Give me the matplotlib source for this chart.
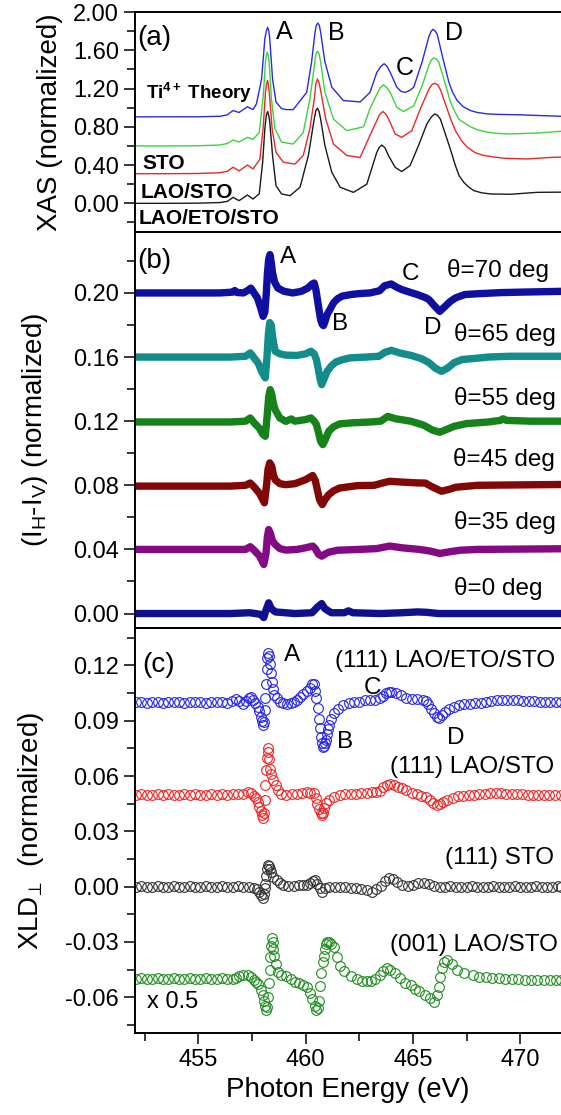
import matplotlib
matplotlib.use("Agg")
import matplotlib.pyplot as plt
from matplotlib.ticker import MultipleLocator, FormatStrFormatter

plt.rcParams['font.family'] = ['Liberation Sans', 'DejaVu Sans']
plt.rcParams['mathtext.fontset'] = 'custom'
plt.rcParams['mathtext.rm'] = 'Liberation Sans'
plt.rcParams['mathtext.it'] = 'Liberation Sans:italic'
plt.rcParams['mathtext.bf'] = 'Liberation Sans:bold'
plt.rcParams['axes.unicode_minus'] = False

# ---------------- (a) XAS spectra (offset) ----------------
xas_theory_e = [452.05, 453.5, 455.0, 456.0, 456.35, 456.62, 456.9, 457.29, 457.55, 457.71, 457.95, 458.1,
                458.17, 458.23, 458.29, 458.33, 458.46, 458.62, 458.88, 459.1, 459.42, 460.05, 460.28, 460.44,
                460.5, 460.57, 460.64, 460.7, 460.9, 461.22, 461.76, 462.54, 463.0, 463.32, 463.5, 463.66,
                463.8, 463.94, 464.25, 464.45, 464.65, 464.85, 465.04, 465.43, 465.74, 465.85, 465.94, 466.04,
                466.13, 466.36, 466.67, 466.85, 467.06, 467.35, 467.68, 468.0, 468.46, 469.0, 470.02, 471.93]
xas_theory_y = [0.904, 0.905, 0.905, 0.91, 0.925, 0.97, 0.95, 1.01, 0.98, 1.04, 1.30, 1.72,
                1.80, 1.84, 1.80, 1.72, 1.30, 1.06, 0.99, 0.98, 0.98, 1.16, 1.48, 1.79,
                1.86, 1.885, 1.86, 1.79, 1.48, 1.215, 1.075, 1.06, 1.16, 1.37, 1.43, 1.46,
                1.43, 1.37, 1.215, 1.17, 1.16, 1.18, 1.215, 1.48, 1.74, 1.80, 1.82, 1.80,
                1.77, 1.55, 1.27, 1.16, 1.075, 1.01, 0.97, 0.95, 0.935, 0.93, 0.925, 0.91]

xas_sto_e = [452.05, 453.5, 455.0, 456.0, 456.35, 456.62, 456.9, 457.29, 457.55, 457.84, 458.03, 458.13,
             458.17, 458.21, 458.26, 458.3, 458.41, 458.57, 458.88, 459.42, 459.89, 460.2, 460.41, 460.48,
             460.55, 460.63, 460.7, 460.9, 461.3, 461.92, 462.7, 463.0, 463.32, 463.48, 463.63, 463.78,
             463.94, 464.25, 464.56, 465.04, 465.43, 465.74, 465.86, 465.97, 466.09, 466.2, 466.44, 466.75,
             466.95, 467.14, 467.4, 467.68, 468.0, 468.46, 469.0, 469.55, 470.8, 471.93]
xas_sto_y = [0.60, 0.60, 0.602, 0.61, 0.625, 0.663, 0.64, 0.69, 0.67, 0.74, 1.13, 1.48,
             1.55, 1.58, 1.55, 1.48, 1.09, 0.78, 0.64, 0.62, 0.74, 1.09, 1.44, 1.56,
             1.59, 1.56, 1.48, 1.16, 0.88, 0.76, 0.80, 0.99, 1.14, 1.21, 1.24, 1.21,
             1.16, 1.005, 0.96, 1.02, 1.23, 1.44, 1.50, 1.52, 1.51, 1.48, 1.30, 1.06,
             0.96, 0.88, 0.84, 0.80, 0.77, 0.743, 0.73, 0.726, 0.735, 0.754]

xas_lao_e = [452.05, 453.5, 455.0, 456.0, 456.35, 456.62, 456.9, 457.29, 457.55, 457.87, 458.03, 458.13,
             458.18, 458.23, 458.28, 458.33, 458.44, 458.62, 458.96, 459.5, 459.89, 460.2, 460.41, 460.48,
             460.55, 460.63, 460.7, 460.94, 461.3, 461.92, 462.54, 463.0, 463.32, 463.45, 463.6, 463.75,
             463.9, 464.17, 464.48, 464.95, 465.35, 465.74, 465.88, 466.01, 466.15, 466.28, 466.59, 466.78,
             466.98, 467.25, 467.53, 467.9, 468.3, 469.24, 470.33, 471.4, 471.93]
xas_lao_y = [0.31, 0.31, 0.312, 0.32, 0.335, 0.377, 0.34, 0.40, 0.36, 0.46, 0.81, 1.16,
             1.25, 1.285, 1.22, 1.10, 0.78, 0.534, 0.43, 0.41, 0.50, 0.78, 1.10, 1.25,
             1.30, 1.26, 1.18, 0.88, 0.62, 0.50, 0.48, 0.71, 0.866, 0.93, 0.96, 0.93,
             0.866, 0.726, 0.69, 0.76, 0.99, 1.19, 1.24, 1.256, 1.24, 1.19, 0.99, 0.87,
             0.76, 0.66, 0.586, 0.53, 0.50, 0.471, 0.464, 0.48, 0.484]

xas_eto_e = [452.05, 453.5, 455.0, 456.0, 456.35, 456.62, 456.9, 457.29, 457.55, 457.84, 458.0, 458.1,
             458.17, 458.23, 458.28, 458.33, 458.46, 458.62, 458.88, 459.27, 459.74, 460.13, 460.4, 460.48,
             460.55, 460.63, 460.7, 460.9, 461.22, 461.61, 462.23, 462.85, 463.32, 463.42, 463.55, 463.7,
             463.86, 464.17, 464.48, 464.87, 465.26, 465.65, 465.85, 466.01, 466.15, 466.28, 466.59, 466.78,
             466.98, 467.15, 467.37, 467.6, 467.84, 468.2, 468.62, 469.55, 470.8, 471.93]
xas_eto_y = [0.00, 0.00, 0.002, 0.008, 0.02, 0.063, 0.028, 0.087, 0.045, 0.10, 0.43, 0.78,
             0.92, 0.96, 0.92, 0.85, 0.50, 0.185, 0.098, 0.08, 0.168, 0.50, 0.88, 0.97,
             0.995, 0.96, 0.88, 0.604, 0.325, 0.168, 0.115, 0.20, 0.534, 0.58, 0.61, 0.58,
             0.50, 0.377, 0.332, 0.395, 0.604, 0.83, 0.90, 0.935, 0.92, 0.88, 0.673, 0.54,
             0.395, 0.29, 0.22, 0.17, 0.133, 0.11, 0.098, 0.095, 0.115, 0.117]

# ---------------- (b) I_H - I_V at several angles ----------------
th70_e = [452.05, 453.0, 454.0, 455.0, 456.0, 456.6, 456.7, 456.8, 457.1, 457.3, 457.45, 457.6, 457.75, 457.9,
          458.02, 458.1, 458.17, 458.22, 458.28, 458.34, 458.4, 458.46, 458.55, 458.7, 459.0, 459.4, 459.8,
          460.1, 460.3, 460.4, 460.48, 460.55, 460.63, 460.7, 460.77, 460.83, 460.9, 461.0, 461.15, 461.3,
          461.5, 461.7, 462.1, 462.5, 463.0, 463.45, 463.68, 463.99, 464.25, 464.5, 464.85, 465.2, 465.6,
          465.75, 466.0, 466.25, 466.45, 466.75, 467.0, 467.42, 468.0, 469.08, 470.0, 471.9]
th70_y = [0.200, 0.200, 0.2, 0.200, 0.2, 0.2005, 0.2015, 0.2003, 0.2, 0.2015, 0.203, 0.200, 0.197, 0.191,
          0.1854, 0.188, 0.200, 0.212, 0.221, 0.2239, 0.219, 0.2125, 0.207, 0.2031, 0.201, 0.200, 0.201,
          0.203, 0.2055, 0.2062, 0.202, 0.196, 0.189, 0.1834, 0.1805, 0.1796, 0.182, 0.1865, 0.190, 0.1938,
          0.1965, 0.198, 0.199, 0.1996, 0.200, 0.2014, 0.2045, 0.2056, 0.2035, 0.202, 0.2005, 0.199, 0.197,
          0.1958, 0.192, 0.1885, 0.191, 0.1948, 0.197, 0.199, 0.1995, 0.2002, 0.2005, 0.201]

th65_e = [452.05, 456.5, 457.2, 457.42, 457.6, 457.8, 457.95, 458.12, 458.2, 458.27, 458.33, 458.4, 458.47,
          458.58, 458.8, 459.08, 459.58, 460.0, 460.25, 460.4, 460.5, 460.6, 460.68, 460.75, 460.85, 461.0,
          461.2, 461.42, 461.75, 462.08, 462.8, 463.42, 463.7, 464.0, 464.4, 464.92, 465.4, 465.75, 466.05,
          466.33, 466.6, 466.92, 467.3, 467.75, 468.5, 469.5, 471.9]
th65_y = [0.160, 0.160, 0.1605, 0.1626, 0.1595, 0.156, 0.151, 0.147, 0.160, 0.175, 0.1815, 0.180, 0.172,
          0.1636, 0.162, 0.1612, 0.161, 0.162, 0.1636, 0.162, 0.1585, 0.152, 0.146, 0.1428, 0.146, 0.151,
          0.1545, 0.157, 0.1585, 0.1595, 0.160, 0.1605, 0.163, 0.1642, 0.1625, 0.161, 0.159, 0.1565, 0.153,
          0.1511, 0.153, 0.1565, 0.1585, 0.159, 0.160, 0.1605, 0.1605]

th55_e = [452.05, 456.5, 457.2, 457.42, 457.6, 457.85, 458.0, 458.12, 458.2, 458.28, 458.35, 458.42, 458.5,
          458.58, 458.8, 459.08, 459.33, 459.5, 460.0, 460.25, 460.4, 460.5, 460.6, 460.7, 460.8, 460.9,
          461.08, 461.3, 461.58, 462.2, 463.0, 463.5, 463.83, 464.2, 464.9, 465.5, 465.9, 466.25, 466.6,
          466.92, 467.5, 468.5, 469.08, 469.2, 469.35, 470.5, 471.9]
th55_y = [0.1195, 0.1195, 0.120, 0.122, 0.119, 0.1155, 0.112, 0.1106, 0.122, 0.135, 0.1397, 0.137, 0.131,
          0.1272, 0.122, 0.1199, 0.1214, 0.120, 0.121, 0.122, 0.120, 0.118, 0.113, 0.1075, 0.1054, 0.108,
          0.1137, 0.1165, 0.1183, 0.119, 0.1195, 0.120, 0.123, 0.1215, 0.120, 0.1175, 0.1145, 0.1131, 0.115,
          0.1168, 0.1185, 0.1195, 0.1205, 0.1215, 0.1205, 0.120, 0.120]

th45_e = [452.05, 456.5, 457.2, 457.42, 457.6, 457.85, 458.08, 458.18, 458.25, 458.33, 458.42, 458.5, 458.58,
          458.8, 459.08, 459.5, 460.0, 460.33, 460.45, 460.55, 460.65, 460.78, 460.9, 461.08, 461.3, 461.58,
          462.4, 463.2, 463.6, 463.92, 464.5, 465.2, 465.58, 465.9, 466.33, 466.7, 467.0, 468.0, 471.9]
th45_y = [0.0795, 0.0795, 0.080, 0.0814, 0.079, 0.075, 0.0691, 0.080, 0.090, 0.094, 0.092, 0.0865, 0.0835,
          0.081, 0.0804, 0.081, 0.0835, 0.0861, 0.083, 0.077, 0.071, 0.068, 0.071, 0.0742, 0.0765, 0.0783,
          0.0798, 0.080, 0.0815, 0.0825, 0.082, 0.0815, 0.0814, 0.079, 0.0763, 0.0775, 0.0788, 0.080, 0.0805]

th35_e = [452.05, 456.5, 457.2, 457.42, 457.6, 457.85, 458.05, 458.15, 458.22, 458.28, 458.36, 458.45, 458.58,
          458.8, 459.08, 459.6, 460.0, 460.33, 460.45, 460.6, 460.75, 460.9, 461.08, 461.5, 462.5, 463.3,
          463.92, 464.5, 465.3, 465.8, 466.25, 466.7, 467.2, 468.0, 471.9]
th35_y = [0.040, 0.040, 0.040, 0.0417, 0.0395, 0.036, 0.0306, 0.037, 0.048, 0.0524, 0.050, 0.0455, 0.0431,
          0.0405, 0.0396, 0.040, 0.041, 0.0421, 0.0405, 0.037, 0.0358, 0.037, 0.0383, 0.0395, 0.040, 0.0405,
          0.0421, 0.041, 0.040, 0.039, 0.0375, 0.0385, 0.0395, 0.040, 0.0404]

th0_e = [452.05, 456.5, 457.4, 457.9, 458.05, 458.15, 458.28, 458.4, 458.6, 459.5, 460.3, 460.55, 460.75,
         460.9, 461.2, 461.8, 462.0, 462.2, 463.5, 464.5, 465.2, 465.6, 466.2, 471.9]
th0_y = [0.000, 0.000, 0.0005, -0.0005, -0.0025, 0.002, 0.0067, 0.003, 0.001, 0.000, 0.0005, 0.004, 0.0062,
         0.003, 0.0005, 0.0005, 0.0017, 0.0005, 0.0, 0.0005, 0.001, 0.0008, 0.0, 0.0]

theta_labels = ["θ=70 deg", "θ=65 deg", "θ=55 deg", "θ=45 deg", "θ=35 deg", "θ=0 deg"]

# ---------------- (c) XLD_perp ----------------
xld_eto_e = [452.1, 452.35, 452.6, 452.85, 453.1, 453.35, 453.6, 453.85, 454.1, 454.35, 454.6, 454.85,
             455.1, 455.35, 455.6, 455.85, 456.1, 456.35, 456.55, 456.75, 456.9, 457.06, 457.2, 457.35,
             457.45, 457.55, 457.65, 457.76, 457.85, 457.92, 457.97, 458.02, 458.06, 458.1, 458.13, 458.16,
             458.19, 458.22, 458.25, 458.29, 458.33, 458.37, 458.42, 458.47, 458.55, 458.65, 458.8, 458.96,
             459.15, 459.3, 459.45, 459.6, 459.75, 459.9, 460.05, 460.2, 460.3, 460.38, 460.45, 460.5,
             460.56, 460.62, 460.66, 460.7, 460.75, 460.8, 460.85, 460.9, 460.95, 461.0, 461.05, 461.1,
             461.2, 461.34, 461.5, 461.73, 462.0, 462.25, 462.5, 462.75, 463.0, 463.25, 463.45, 463.6,
             463.76, 463.9, 464.0, 464.2, 464.45, 464.7, 464.95, 465.2, 465.45, 465.6, 465.7, 465.85,
             465.96, 466.1, 466.2, 466.35, 466.5, 466.7, 466.9, 467.15, 467.4, 467.65, 467.9, 468.15,
             468.4, 468.65, 468.9, 469.15, 469.4, 469.65, 469.9, 470.15, 470.4, 470.65, 470.9, 471.15,
             471.4, 471.65, 471.9]
xld_eto_y = [0.100, 0.1003, 0.0998, 0.100, 0.1002, 0.0998, 0.100, 0.1003, 0.100, 0.0998, 0.100, 0.1002,
             0.100, 0.0998, 0.100, 0.1002, 0.100, 0.0998, 0.1005, 0.1017, 0.1005, 0.0988, 0.1005, 0.1025,
             0.1031, 0.1015, 0.0995, 0.0977, 0.095, 0.0922, 0.090, 0.0877, 0.0895, 0.096, 0.1022, 0.110,
             0.118, 0.124, 0.1266, 0.125, 0.121, 0.116, 0.111, 0.107, 0.104, 0.1021, 0.100, 0.0994,
             0.0992, 0.0995, 0.100, 0.1015, 0.103, 0.1043, 0.106, 0.108, 0.110, 0.110, 0.106, 0.1021,
             0.097, 0.091, 0.086, 0.0814, 0.078, 0.0759, 0.0765, 0.078, 0.0795, 0.083, 0.0855, 0.0877,
             0.091, 0.094, 0.0965, 0.0986, 0.0995, 0.100, 0.1004, 0.101, 0.1012, 0.1015, 0.1022, 0.1035,
             0.1049, 0.1055, 0.1058, 0.105, 0.1038, 0.1025, 0.102, 0.1018, 0.1015, 0.1005, 0.0988, 0.0965,
             0.094, 0.092, 0.0913, 0.093, 0.0949, 0.0965, 0.0977, 0.0985, 0.099, 0.0993, 0.0995, 0.0997,
             0.100, 0.1005, 0.101, 0.101, 0.1013, 0.1013, 0.101, 0.1008, 0.1005, 0.1005, 0.1004, 0.1004,
             0.1004, 0.1004, 0.1004]

xld_lao_e = [452.1, 452.35, 452.6, 452.85, 453.1, 453.35, 453.6, 453.85, 454.1, 454.35, 454.6, 454.85,
             455.1, 455.35, 455.6, 455.85, 456.1, 456.35, 456.6, 456.85, 457.1, 457.3, 457.45, 457.6,
             457.7, 457.8, 457.85, 457.92, 457.97, 458.02, 458.07, 458.1, 458.13, 458.17, 458.2, 458.23,
             458.27, 458.31, 458.35, 458.4, 458.5, 458.6, 458.7, 458.85, 459.1, 459.35, 459.6, 459.85,
             460.06, 460.2, 460.37, 460.48, 460.55, 460.62, 460.7, 460.75, 460.82, 460.88, 460.95, 461.1,
             461.34, 461.6, 461.85, 462.1, 462.35, 462.6, 462.85, 463.1, 463.3, 463.47, 463.62, 463.8,
             463.94, 464.1, 464.3, 464.5, 464.7, 464.95, 465.2, 465.4, 465.6, 465.8, 465.95, 466.1,
             466.25, 466.4, 466.6, 466.85, 467.1, 467.35, 467.6, 467.85, 468.1, 468.35, 468.6, 468.85,
             469.1, 469.35, 469.6, 469.85, 470.1, 470.35, 470.6, 470.85, 471.1, 471.35, 471.6, 471.9]
xld_lao_y = [0.0497, 0.050, 0.0495, 0.0498, 0.050, 0.0497, 0.050, 0.0495, 0.0498, 0.050, 0.0497, 0.050,
             0.0495, 0.0498, 0.050, 0.0497, 0.050, 0.0498, 0.050, 0.050, 0.0505, 0.0515, 0.051, 0.049,
             0.048, 0.046, 0.0434, 0.041, 0.039, 0.0371, 0.040, 0.047, 0.055, 0.063, 0.070, 0.0751,
             0.073, 0.069, 0.064, 0.061, 0.0578, 0.055, 0.0524, 0.0505, 0.0497, 0.050, 0.0505, 0.051,
             0.0515, 0.051, 0.0506, 0.048, 0.045, 0.042, 0.040, 0.0389, 0.040, 0.0425, 0.0452, 0.047,
             0.0488, 0.0495, 0.050, 0.0503, 0.0505, 0.0506, 0.051, 0.0512, 0.0515, 0.052, 0.054, 0.0553,
             0.0557, 0.0552, 0.054, 0.0533, 0.0524, 0.051, 0.050, 0.0492, 0.0488, 0.047, 0.0455, 0.0443,
             0.045, 0.046, 0.047, 0.048, 0.049, 0.0493, 0.0495, 0.0498, 0.050, 0.0503, 0.0506, 0.0506,
             0.0506, 0.0504, 0.0502, 0.050, 0.050, 0.0498, 0.0498, 0.0497, 0.0497, 0.0497, 0.0497, 0.0497]

xld_sto_e = [452.1, 452.35, 452.6, 452.85, 453.1, 453.35, 453.6, 453.85, 454.1, 454.35, 454.6, 454.85,
             455.1, 455.35, 455.6, 455.85, 456.1, 456.35, 456.6, 456.85, 457.1, 457.35, 457.6, 457.75,
             457.85, 457.93, 458.0, 458.05, 458.1, 458.13, 458.17, 458.2, 458.23, 458.28, 458.33, 458.4,
             458.5, 458.65, 458.8, 458.96, 459.2, 459.45, 459.7, 459.9, 460.06, 460.2, 460.35, 460.44,
             460.55, 460.65, 460.75, 460.9, 461.1, 461.35, 461.6, 461.85, 462.1, 462.35, 462.6, 462.85,
             463.1, 463.3, 463.5, 463.7, 463.9, 464.05, 464.25, 464.5, 464.75, 465.0, 465.25, 465.5,
             465.75, 466.0, 466.25, 466.5, 466.75, 467.0, 467.25, 467.5, 467.75, 468.0, 468.25, 468.5,
             468.75, 469.0, 469.25, 469.5, 469.75, 470.0, 470.25, 470.5, 470.75, 471.0, 471.25, 471.5,
             471.75, 471.9]
xld_sto_y = [0.000, 0.0003, -0.0002, 0.000, 0.0003, -0.0002, 0.000, 0.0003, -0.0002, 0.000, 0.0003, -0.0002,
             0.000, 0.0003, -0.0002, 0.000, 0.0003, -0.0002, 0.000, 0.0002, 0.000, -0.0002, -0.0005, -0.0015,
             -0.0027, -0.0045, -0.0063, -0.004, -0.0005, 0.0017, 0.006, 0.0095, 0.0117, 0.011, 0.0095, 0.008,
             0.0055, 0.0035, 0.002, 0.001, 0.0005, 0.0005, 0.0008, 0.001, 0.0009, 0.002, 0.0033, 0.0036,
             0.0015, -0.001, -0.0027, -0.001, 0.000, 0.000, 0.000, -0.0003, -0.0005, -0.0008, -0.0012, -0.002,
             -0.0027, -0.0015, 0.0005, 0.003, 0.0045, 0.004, 0.0025, 0.0009, 0.0005, 0.001, 0.0018, 0.0022,
             0.0015, 0.0005, 0.000, 0.000, 0.0002, 0.000, -0.0002, 0.000, 0.0002, 0.000, -0.0002, 0.000,
             0.0002, 0.000, -0.0002, 0.000, 0.0002, 0.000, -0.0002, 0.000, 0.0002, 0.000, -0.0002, 0.000,
             0.0002, 0.000]

xld_001_e = [452.1, 452.35, 452.6, 452.85, 453.1, 453.35, 453.6, 453.85, 454.1, 454.35, 454.6, 454.85,
             455.1, 455.35, 455.6, 455.85, 456.1, 456.35, 456.6, 456.75, 456.9, 457.1, 457.3, 457.45,
             457.6, 457.7, 457.8, 457.92, 458.0, 458.07, 458.12, 458.17, 458.22, 458.27, 458.3, 458.33,
             458.36, 458.39, 458.42, 458.46, 458.5, 458.55, 458.62, 458.7, 458.85, 459.1, 459.3, 459.5,
             459.7, 459.9, 460.05, 460.2, 460.32, 460.42, 460.5, 460.56, 460.62, 460.68, 460.74, 460.8,
             460.85, 460.9, 460.95, 461.0, 461.08, 461.18, 461.3, 461.45, 461.6, 461.8, 462.1, 462.4,
             462.65, 462.85, 463.05, 463.25, 463.45, 463.6, 463.78, 463.95, 464.15, 464.4, 464.65, 464.9,
             465.1, 465.3, 465.55, 465.8, 466.0, 466.1, 466.2, 466.28, 466.36, 466.45, 466.6, 466.8,
             467.06, 467.4, 467.8, 468.1, 468.4, 468.7, 469.0, 469.3, 469.6, 469.9, 470.2, 470.5,
             470.8, 471.1, 471.4, 471.65, 471.9]
xld_001_y = [-0.050, -0.0497, -0.0503, -0.050, -0.0497, -0.0503, -0.050, -0.0497, -0.0503, -0.050, -0.0497, -0.0503,
             -0.050, -0.0497, -0.0503, -0.050, -0.0497, -0.0503, -0.050, -0.0495, -0.0485, -0.048, -0.048, -0.049,
             -0.0505, -0.0515, -0.053, -0.0561, -0.059, -0.062, -0.065, -0.0669, -0.0655, -0.060, -0.052, -0.045,
             -0.038, -0.032, -0.028, -0.030, -0.034, -0.0378, -0.042, -0.0465, -0.048, -0.0486, -0.050, -0.0515,
             -0.052, -0.0532, -0.0545, -0.0577, -0.061, -0.065, -0.0669, -0.066, -0.062, -0.054, -0.047, -0.041,
             -0.0378, -0.034, -0.031, -0.0299, -0.030, -0.031, -0.0325, -0.038, -0.0433, -0.046, -0.0486, -0.050,
             -0.051, -0.0514, -0.0512, -0.050, -0.048, -0.0455, -0.0443, -0.045, -0.047, -0.0495, -0.052, -0.0535,
             -0.0555, -0.0568, -0.059, -0.0606, -0.0624, -0.059, -0.0543, -0.049, -0.0443, -0.041, -0.0398, -0.042,
             -0.0452, -0.047, -0.048, -0.0488, -0.049, -0.0495, -0.0497, -0.050, -0.0502, -0.0503, -0.0505, -0.0505,
             -0.0505, -0.0506, -0.0506, -0.0506, -0.0506]

xld_labels = ["(111) LAO/ETO/STO", "(111) LAO/STO", "(111) STO", "(001) LAO/STO"]

# ---------------- figure ----------------
fig = plt.figure(figsize=(5.61, 11.15), dpi=100)
left, width = 0.2406, 0.7594
ax_a = fig.add_axes([left, 0.7919, width, 0.1973])
ax_b = fig.add_axes([left, 0.4368, width, 0.3551], sharex=ax_a)
ax_c = fig.add_axes([left, 0.0735, width, 0.3633], sharex=ax_a)

for ax in (ax_a, ax_b, ax_c):
    ax.spines['right'].set_visible(False)
    for s in ('left', 'bottom', 'top'):
        ax.spines[s].set_linewidth(1.4)
    ax.tick_params(which='both', direction='out', top=False, right=False, width=1.1, labelsize=17)
    ax.tick_params(which='major', length=8)
    ax.tick_params(which='minor', length=5.5)
    ax.xaxis.set_major_locator(MultipleLocator(5))
    ax.xaxis.set_minor_locator(MultipleLocator(2.5))

ax_a.set_xlim(452.05, 471.9)
ax_a.tick_params(labelbottom=False)
ax_b.tick_params(labelbottom=False)

# (a)
for e, y, c in [(xas_eto_e, xas_eto_y, '#1a1a1a'), (xas_lao_e, xas_lao_y, '#e8282a'),
                (xas_sto_e, xas_sto_y, '#3ad43a'), (xas_theory_e, xas_theory_y, '#2a2ae6')]:
    ax_a.plot(e, y, color=c, lw=1.0, solid_joinstyle='round')
ax_a.set_ylim(-0.30, 2.00)
ax_a.yaxis.set_major_locator(MultipleLocator(0.4))
ax_a.yaxis.set_minor_locator(MultipleLocator(0.2))
ax_a.yaxis.set_major_formatter(FormatStrFormatter('%.2f'))
ax_a.set_ylabel('XAS (normalized)', fontsize=20)
ax_a.yaxis.set_label_coords(-0.17, 0.5)
ax_a.text(452.17, 1.73, '(a)', fontsize=20, va='center')
for lab, ex, vy in [('A', 458.6, 1.79), ('B', 461.05, 1.78), ('C', 464.2, 1.42), ('D', 466.5, 1.78)]:
    ax_a.text(ex, vy, lab, fontsize=18, va='center')
ax_a.text(452.57, 1.15, r'Ti$^{\mathbf{4+}}$ Theory', fontsize=13.5, fontweight='bold', va='center')
ax_a.text(452.4, 0.42, 'STO', fontsize=15, fontweight='bold', va='center')
ax_a.text(452.29, 0.115, 'LAO/STO', fontsize=15, fontweight='bold', va='center')
ax_a.text(452.2, -0.154, 'LAO/ETO/STO', fontsize=15, fontweight='bold', va='center')

# (b)
b_series = [(th70_e, th70_y, '#0f0fa0'), (th65_e, th65_y, '#138c8c'), (th55_e, th55_y, '#15821a'),
            (th45_e, th45_y, '#820808'), (th35_e, th35_y, '#840a84'), (th0_e, th0_y, '#10108c')]
for e, y, c in b_series:
    ax_b.plot(e, y, color=c, lw=5.3, solid_joinstyle='round')
ax_b.set_ylim(-0.009, 0.238)
ax_b.yaxis.set_major_locator(MultipleLocator(0.04))
ax_b.yaxis.set_minor_locator(MultipleLocator(0.02))
ax_b.yaxis.set_major_formatter(FormatStrFormatter('%.2f'))
ax_b.set_ylabel(r'(I$_\mathregular{H}$-I$_\mathregular{V}$) (normalized)', fontsize=20)
ax_b.yaxis.set_label_coords(-0.20, 0.5)
ax_b.text(452.15, 0.2201, '(b)', fontsize=20, va='center')
for lab, ex, vy in [('A', 458.8, 0.2226), ('B', 461.23, 0.1806), ('C', 464.46, 0.2117), ('D', 465.53, 0.1784)]:
    ax_b.text(ex, vy, lab, fontsize=17.5, va='center')
for lab, ex, vy in zip(theta_labels, [466.6, 466.93, 466.93, 466.85, 466.93, 466.93],
                       [0.2139, 0.174, 0.1339, 0.0961, 0.0566, 0.0159]):
    ax_b.text(ex, vy, lab, fontsize=17.5, va='center')

# (c)
c_series = [(xld_eto_e, xld_eto_y, '#2424e6'), (xld_lao_e, xld_lao_y, '#ee2424'),
            (xld_sto_e, xld_sto_y, '#333333'), (xld_001_e, xld_001_y, '#1f8c1f')]
for e, y, c in c_series:
    ax_c.plot(e, y, 'o', mfc='none', mec=c, ms=7, mew=0.8)
ax_c.set_ylim(-0.0794, 0.1403)
ax_c.yaxis.set_major_locator(MultipleLocator(0.03))
ax_c.yaxis.set_minor_locator(MultipleLocator(0.015))
ax_c.yaxis.set_major_formatter(FormatStrFormatter('%.2f'))
ax_c.set_ylabel(r'XLD$_{⊥}$  (normalized)', fontsize=20)
ax_c.yaxis.set_label_coords(-0.21, 0.5)
ax_c.set_xlabel('Photon Energy (eV)', fontsize=20)
ax_c.text(452.4, 0.120, '(c)', fontsize=20, va='center')
for lab, ex, vy in [('A', 459.0, 0.1254), ('B', 461.47, 0.0782), ('C', 462.73, 0.1078), ('D', 466.6, 0.0807)]:
    ax_c.text(ex, vy, lab, fontsize=17.5, va='center')
for lab, ex, vy in zip(xld_labels, [461.35, 463.94, 466.51, 463.94], [0.1224, 0.0649, 0.0155, -0.0317]):
    ax_c.text(ex, vy, lab, fontsize=17.5, va='center')
ax_c.text(452.62, -0.0628, 'x 0.5', fontsize=17, va='center')

fig.savefig('out.png', dpi=100)
